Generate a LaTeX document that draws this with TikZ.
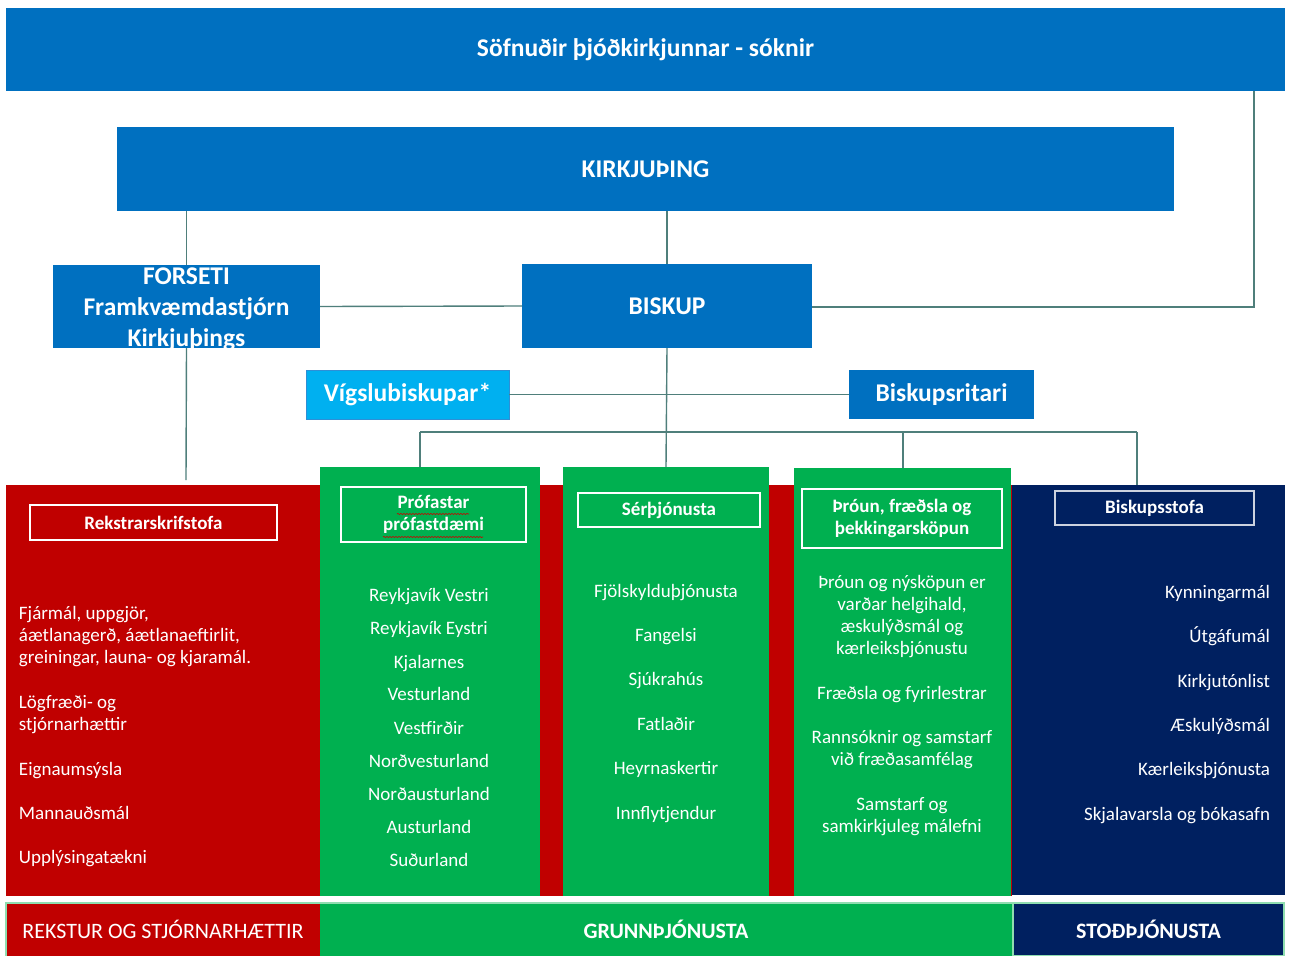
\documentclass[tikz,border=0pt]{standalone}
\usepackage{fontspec}
\setmainfont{Carlito}
\usetikzlibrary{decorations.pathmorphing}
\definecolor{cblue}{HTML}{0070C0}
\definecolor{clight}{HTML}{00B0F0}
\definecolor{clightb}{HTML}{2E8FD6}
\definecolor{cred}{HTML}{C00000}
\definecolor{cgreen}{HTML}{00B050}
\definecolor{cnavy}{HTML}{002060}
\definecolor{cconn}{HTML}{4F7F7B}
\definecolor{cpale}{HTML}{8FDDB0}
\begin{document}
\begin{tikzpicture}[x=1pt,y=-1pt,
  panel/.style={rectangle, inner sep=0, outer sep=0, text=white, align=center},
  bigtxt/.style={font=\bfseries\fontsize{25.5}{31}\selectfont},
  hdr/.style={rectangle, draw=white, line width=1.3pt, inner sep=0, outer sep=0, text=white, align=center, font=\bfseries\fontsize{19}{22}\selectfont},
  item/.style={text=white, inner sep=0, outer sep=0, font=\fontsize{19}{22}\selectfont},
  conn/.style={draw=cconn, line width=1.4pt},
  strip/.style={rectangle, inner sep=0, outer sep=0, text=white, font=\fontsize{22}{24}\selectfont}]
\useasboundingbox (0,0) rectangle (1291,956);
\fill[white] (0,0) rectangle (1291,956);

% top boxes
\node[panel, bigtxt, fill=cblue, minimum width=1279pt, minimum height=83pt] (sofn) at (645.5,49.5) {Söfnuðir þjóðkirkjunnar - sóknir};
\node[panel, bigtxt, fill=cblue, minimum width=1057pt, minimum height=84pt] (kirk) at (645.5,169) {KIRKJUÞING};
\node[panel, fill=cblue, minimum width=267pt, minimum height=83pt] (fors) at (186.5,306.5) {};
\node[panel, bigtxt, fill=cblue, minimum width=290pt, minimum height=84pt] (bisk) at (667,306) {BISKUP};
\node[panel, bigtxt, fill=clight, draw=clightb, line width=1pt, minimum width=203pt, minimum height=49pt] (vigs) at (407.5,394.5) {Vígslubiskupar*};
\node[panel, bigtxt, fill=cblue, minimum width=185pt, minimum height=49pt] (rit) at (941.5,394.5) {Biskupsritari};

% coloured panels
\node[panel, fill=cred, minimum width=1006pt, minimum height=411pt] (redbg) at (509,690.5) {};
\node[panel, fill=cnavy, minimum width=273pt, minimum height=410pt] (navy) at (1148.5,690) {};
\node[panel, fill=cgreen, minimum width=220pt, minimum height=429pt] (gc1) at (430,681.5) {};
\node[panel, fill=cgreen, minimum width=206pt, minimum height=429pt] (gc2) at (666,681.5) {};
\node[panel, fill=cgreen, minimum width=217pt, minimum height=428pt] (gc3) at (902.5,682) {};

% connectors
\coordinate (rtop) at (1254,91);
\coordinate (rmid) at (1254,307);
\coordinate (fbot) at (186,480);
\coordinate (busL) at (420,432);
\coordinate (busR) at (1137,432);
\coordinate (busM) at (903,432);
\draw[conn] (sofn.south -| rtop) -- (rmid) -- (bisk.east |- rmid);
\draw[conn] (kirk.south -| fors.north) -- (fors.north);
\draw[conn] (kirk.south -| bisk.north) -- (bisk.north);
\draw[conn] (fors.east) -- (bisk.west);
\draw[conn] (fors.south) -- (fbot);
\draw[conn] (vigs.east) -- (rit.west);
\draw[conn] (bisk.south) -- (gc2.north);
\draw[conn] (busL) -- (busR);
\draw[conn] (busL) -- (busL |- gc1.north);
\draw[conn] (busM) -- (busM |- gc3.north);
\draw[conn] (busR) -- (busR |- navy.north);

% FORSETI text, overflowing its box as in the original
\node[panel, bigtxt, anchor=base] (forsT) at (186.5,346) {FORSETI\\Framkvæmdastjórn\\Kirkjuþings};

% column headers
\node[hdr, minimum width=247pt, minimum height=35pt] (h1) at (153.5,522.5) {Rekstrarskrifstofa};
\node[hdr, minimum width=185pt, minimum height=55pt] (h2) at (433.5,514.5) {Prófastar\\prófastdæmi};
\node[hdr, minimum width=182pt, minimum height=34pt] (h3) at (669,510) {Sérþjónusta};
\node[hdr, minimum width=200pt, minimum height=59pt] (h4) at (902,518.5) {Þróun, fræðsla og\\þekkingarsköpun};
\node[hdr, draw=white!80!cnavy, minimum width=199pt, minimum height=34pt] (h5) at (1154.5,508) {Biskupsstofa};
\draw[red!80!black, line width=0.6pt, decorate, decoration={snake, amplitude=0.6pt, segment length=3pt}] (397,514) -- (469,514);
\draw[red!80!black, line width=0.6pt, decorate, decoration={snake, amplitude=0.6pt, segment length=3pt}] (383,537) -- (483,537);

% red column
\foreach \t/\y [count=\i] in {{Fjármál, uppgjör,}/619, {áætlanagerð, áætlanaeftirlit,}/641, {greiningar, launa- og kjaramál.}/663, {Lögfræði- og}/708, {stjórnarhættir}/730, {Eignaumsýsla}/775, {Mannauðsmál}/819, {Upplýsingatækni}/863}
  \node[item, anchor=base west] (ra\i) at (19,\y) {\t};

% green column 1
\foreach \t/\y [count=\i] in {{Reykjavík Vestri}/601, {Reykjavík Eystri}/634, {Kjalarnes}/668, {Vesturland}/700, {Vestfirðir}/734, {Norðvesturland}/767, {Norðausturland}/800, {Austurland}/833, {Suðurland}/866}
  \node[item, anchor=base] (ga\i) at (429,\y) {\t};

% green column 2
\foreach \t/\y [count=\i] in {{Fjölskylduþjónusta}/597, {Fangelsi}/641, {Sjúkrahús}/685, {Fatlaðir}/730, {Heyrnaskertir}/774, {Innflytjendur}/819}
  \node[item, anchor=base] (gb\i) at (666,\y) {\t};

% green column 3
\foreach \t/\y [count=\i] in {{Þróun og nýsköpun er}/588, {varðar helgihald,}/610, {æskulýðsmál og}/632, {kærleiksþjónustu}/654, {Fræðsla og fyrirlestrar}/699, {Rannsóknir og samstarf}/743, {við fræðasamfélag}/765, {Samstarf og}/810, {samkirkjuleg málefni}/832}
  \node[item, anchor=base] (gc\i) at (902,\y) {\t};

% navy column
\foreach \t/\y [count=\i] in {{Kynningarmál}/598, {Útgáfumál}/642, {Kirkjutónlist}/687, {Æskulýðsmál}/731, {Kærleiksþjónusta}/775, {Skjalavarsla og bókasafn}/820}
  \node[item, anchor=base east] (na\i) at (1270,\y) {\t};

% bottom strip
\node[strip, fill=cred, minimum width=314pt, minimum height=53pt] (s1) at (163,929.5) {REKSTUR OG STJÓRNARHÆTTIR};
\node[strip, fill=cgreen, minimum width=692pt, minimum height=53pt, font=\bfseries\fontsize{22}{24}\selectfont] (s2) at (666,929.5) {GRUNNÞJÓNUSTA};
\node[strip, fill=cnavy, minimum width=271pt, minimum height=53pt, font=\bfseries\fontsize{22}{24}\selectfont] (s3) at (1148.5,929.5) {STOÐÞJÓNUSTA};
\draw[cpale, line width=1.2pt] (s1.south west) -- (s1.north west) -- (s2.north east);
\draw[cpale, line width=1.2pt] (s3.south west) rectangle (s3.north east);
\end{tikzpicture}
\end{document}
